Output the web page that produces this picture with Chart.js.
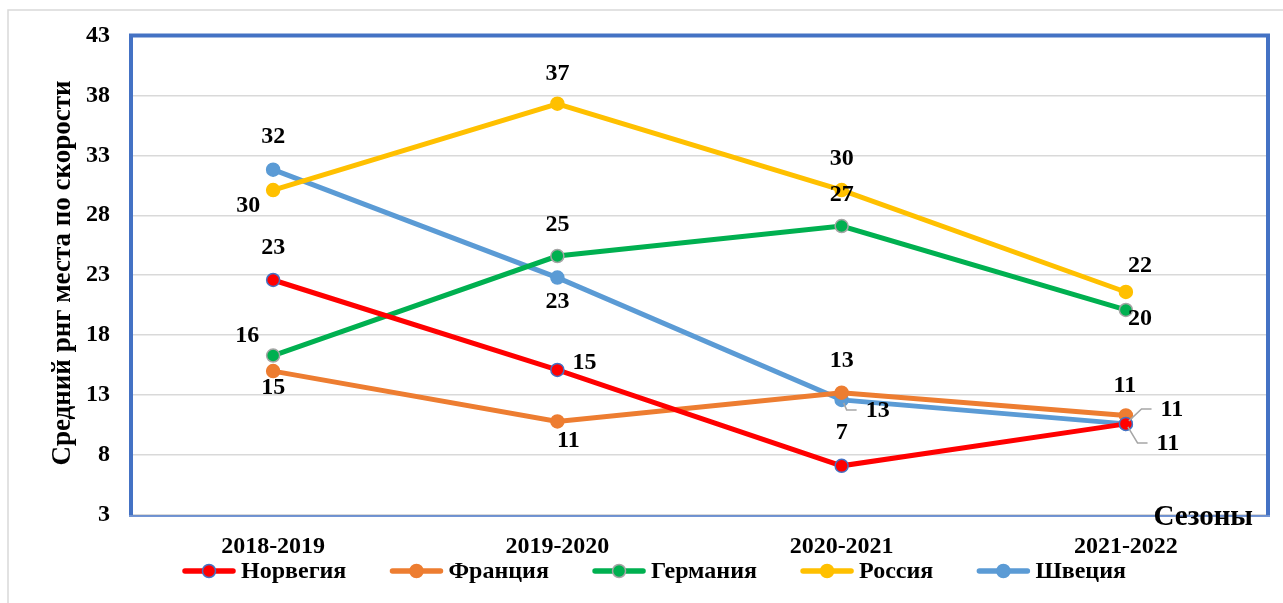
<!DOCTYPE html>
<html>
<head>
<meta charset="utf-8">
<script src="https://cdn.jsdelivr.net/npm/chart.js@4.4.0/dist/chart.umd.min.js"></script>
<style>
  body { margin: 0; background: #fff; }
</style>
</head>
<body>
<canvas id="chart" width="1283" height="603"></canvas>
<script>
// values
const seasons = ["2018-2019", "2019-2020", "2020-2021", "2021-2022"];
const norway  = [22.6, 15.1, 7.1, 10.6];
const france  = [15.0, 10.8, 13.2, 11.3];
const germany = [16.3, 24.6, 27.1, 20.1];
const russia  = [30.1, 37.3, 30.1, 21.6];
const sweden  = [31.8, 22.8, 12.6, 10.6];
const yMin = 3, yMax = 43, yStep = 5;

const FONT = '"Liberation Serif", "DejaVu Serif", serif';

// where each value label sits relative to its point (dx, dy, leader line)
const labelPlace = {
    norway:  [[0, -33], [27, -8], [0, -34], [46, -15, true]],
    france:  [[0, 16], [11, 18], [0, -33], [-1, -31]],
    germany: [[-26, -21], [0, -32], [0, -32], [14, 8]],
    russia:  [[-25, 15], [0, -31], [0, -32], [14, -27]],
    sweden:  [[0, -34], [0, 23], [36, 10, true], [42, 19, true]]
};

function series(label, data, color, border, place) {
    return {
        label: label,
        data: data,
        borderColor: color,
        backgroundColor: color,
        borderWidth: 5,
        pointRadius: 6.5,
        pointHoverRadius: 6.5,
        pointBackgroundColor: color,
        pointBorderColor: border,
        pointBorderWidth: 1.5,
        tension: 0,
        labelPlace: place
    };
}

const decor = {
    id: "decor",
    afterDatasetsDraw(chart) {
        const ctx = chart.ctx;
        ctx.save();
        ctx.font = "bold 24px " + FONT;
        ctx.fillStyle = "#000";
        ctx.textBaseline = "middle";
        ctx.textAlign = "center";
        chart.data.datasets.forEach((ds, i) => {
            const meta = chart.getDatasetMeta(i);
            meta.data.forEach((pt, j) => {
                const p = ds.labelPlace[j];
                const txt = String(Math.round(ds.data[j]));
                const lx = pt.x + p[0], ly = pt.y + p[1];
                if (p[2]) {
                    const left = lx - ctx.measureText(txt).width / 2;
                    const end = left - 9;
                    ctx.strokeStyle = "#a6a6a6";
                    ctx.lineWidth = 1.5;
                    ctx.beginPath();
                    ctx.moveTo(pt.x + (ly > pt.y ? 2 : 3), pt.y + (ly > pt.y ? 3 : -3));
                    ctx.lineTo(end - 10, ly);
                    ctx.lineTo(end, ly);
                    ctx.stroke();
                }
                ctx.fillText(txt, lx, ly + 1);
            });
        });
        ctx.restore();
    },
    afterDraw(chart) {
        const ctx = chart.ctx, a = chart.chartArea;
        ctx.save();

        // outer frame
        ctx.strokeStyle = "#d9d9d9";
        ctx.lineWidth = 1.5;
        ctx.beginPath();
        ctx.moveTo(8, 603);
        ctx.lineTo(8, 10);
        ctx.lineTo(1283, 10);
        ctx.stroke();

        // blue plot frame
        ctx.strokeStyle = "#4472c4";
        ctx.lineWidth = 4;
        ctx.beginPath();
        ctx.moveTo(a.left, a.bottom);
        ctx.lineTo(a.left, a.top);
        ctx.lineTo(a.right, a.top);
        ctx.lineTo(a.right, a.bottom);
        ctx.stroke();
        ctx.lineWidth = 1.5;
        ctx.beginPath();
        ctx.moveTo(a.left - 2, a.bottom + 1);
        ctx.lineTo(a.right + 2, a.bottom + 1);
        ctx.stroke();

        // axis titles
        ctx.fillStyle = "#000";
        ctx.font = "bold 27px " + FONT;
        ctx.textAlign = "center";
        ctx.textBaseline = "middle";
        ctx.save();
        ctx.translate(63, 273);
        ctx.rotate(-Math.PI / 2);
        ctx.fillText("Средний рнг места по скорости", 0, 0);
        ctx.restore();

        ctx.font = "bold 29px " + FONT;
        ctx.textAlign = "right";
        ctx.fillText("Сезоны", 1253, 518);

        // legend: line with marker, then name
        ctx.font = "bold 24px " + FONT;
        ctx.textAlign = "left";
        const items = chart.data.datasets;
        const lineLen = 54, gap = 5, span = 944;
        let used = 0;
        items.forEach(ds => { used += lineLen + gap + ctx.measureText(ds.label).width; });
        const spacing = (span - used) / (items.length - 1);
        let x = 182;
        const y = 571;
        items.forEach(ds => {
            ctx.strokeStyle = ds.borderColor;
            ctx.lineWidth = 5.5;
            ctx.lineCap = "round";
            ctx.beginPath();
            ctx.moveTo(x + 3, y);
            ctx.lineTo(x + lineLen - 3, y);
            ctx.stroke();
            ctx.beginPath();
            ctx.arc(x + lineLen / 2, y, 6.5, 0, Math.PI * 2);
            ctx.fillStyle = ds.pointBackgroundColor;
            ctx.fill();
            ctx.lineWidth = 1.5;
            ctx.strokeStyle = ds.pointBorderColor;
            ctx.stroke();
            ctx.fillStyle = "#000";
            ctx.fillText(ds.label, x + lineLen + gap, y + 1);
            x += lineLen + gap + ctx.measureText(ds.label).width + spacing;
        });

        ctx.restore();
    }
};

new Chart(document.getElementById("chart"), {
    type: "line",
    data: {
        labels: seasons,
        datasets: [
            series("Норвегия", norway, "#ff0000", "#4472c4", labelPlace.norway),
            series("Франция", france, "#ed7d31", "#ed7d31", labelPlace.france),
            series("Германия", germany, "#00b050", "#a5a5a5", labelPlace.germany),
            series("Россия", russia, "#ffc000", "#ffc000", labelPlace.russia),
            series("Швеция", sweden, "#5b9bd5", "#5b9bd5", labelPlace.sweden)
        ]
    },
    options: {
        responsive: false,
        animation: false,
        layout: { padding: { left: 8, right: 15, top: 33, bottom: 0 } },
        plugins: {
            legend: { display: false },
            tooltip: { enabled: false }
        },
        scales: {
            x: {
                offset: true,
                grid: { display: false },
                border: { display: false },
                ticks: {
                    color: "#000",
                    padding: 9,
                    font: { family: FONT, size: 24, weight: "bold" }
                },
                afterFit: s => { s.height = 88; }
            },
            y: {
                min: yMin,
                max: yMax,
                grid: { color: "#d9d9d9", lineWidth: 1.5, drawTicks: false },
                border: { display: false },
                ticks: {
                    stepSize: yStep,
                    color: "#000",
                    padding: 21,
                    font: { family: FONT, size: 24, weight: "bold" }
                },
                afterFit: s => { s.width = 123; }
            }
        }
    },
    plugins: [decor]
});
</script>
</body>
</html>
